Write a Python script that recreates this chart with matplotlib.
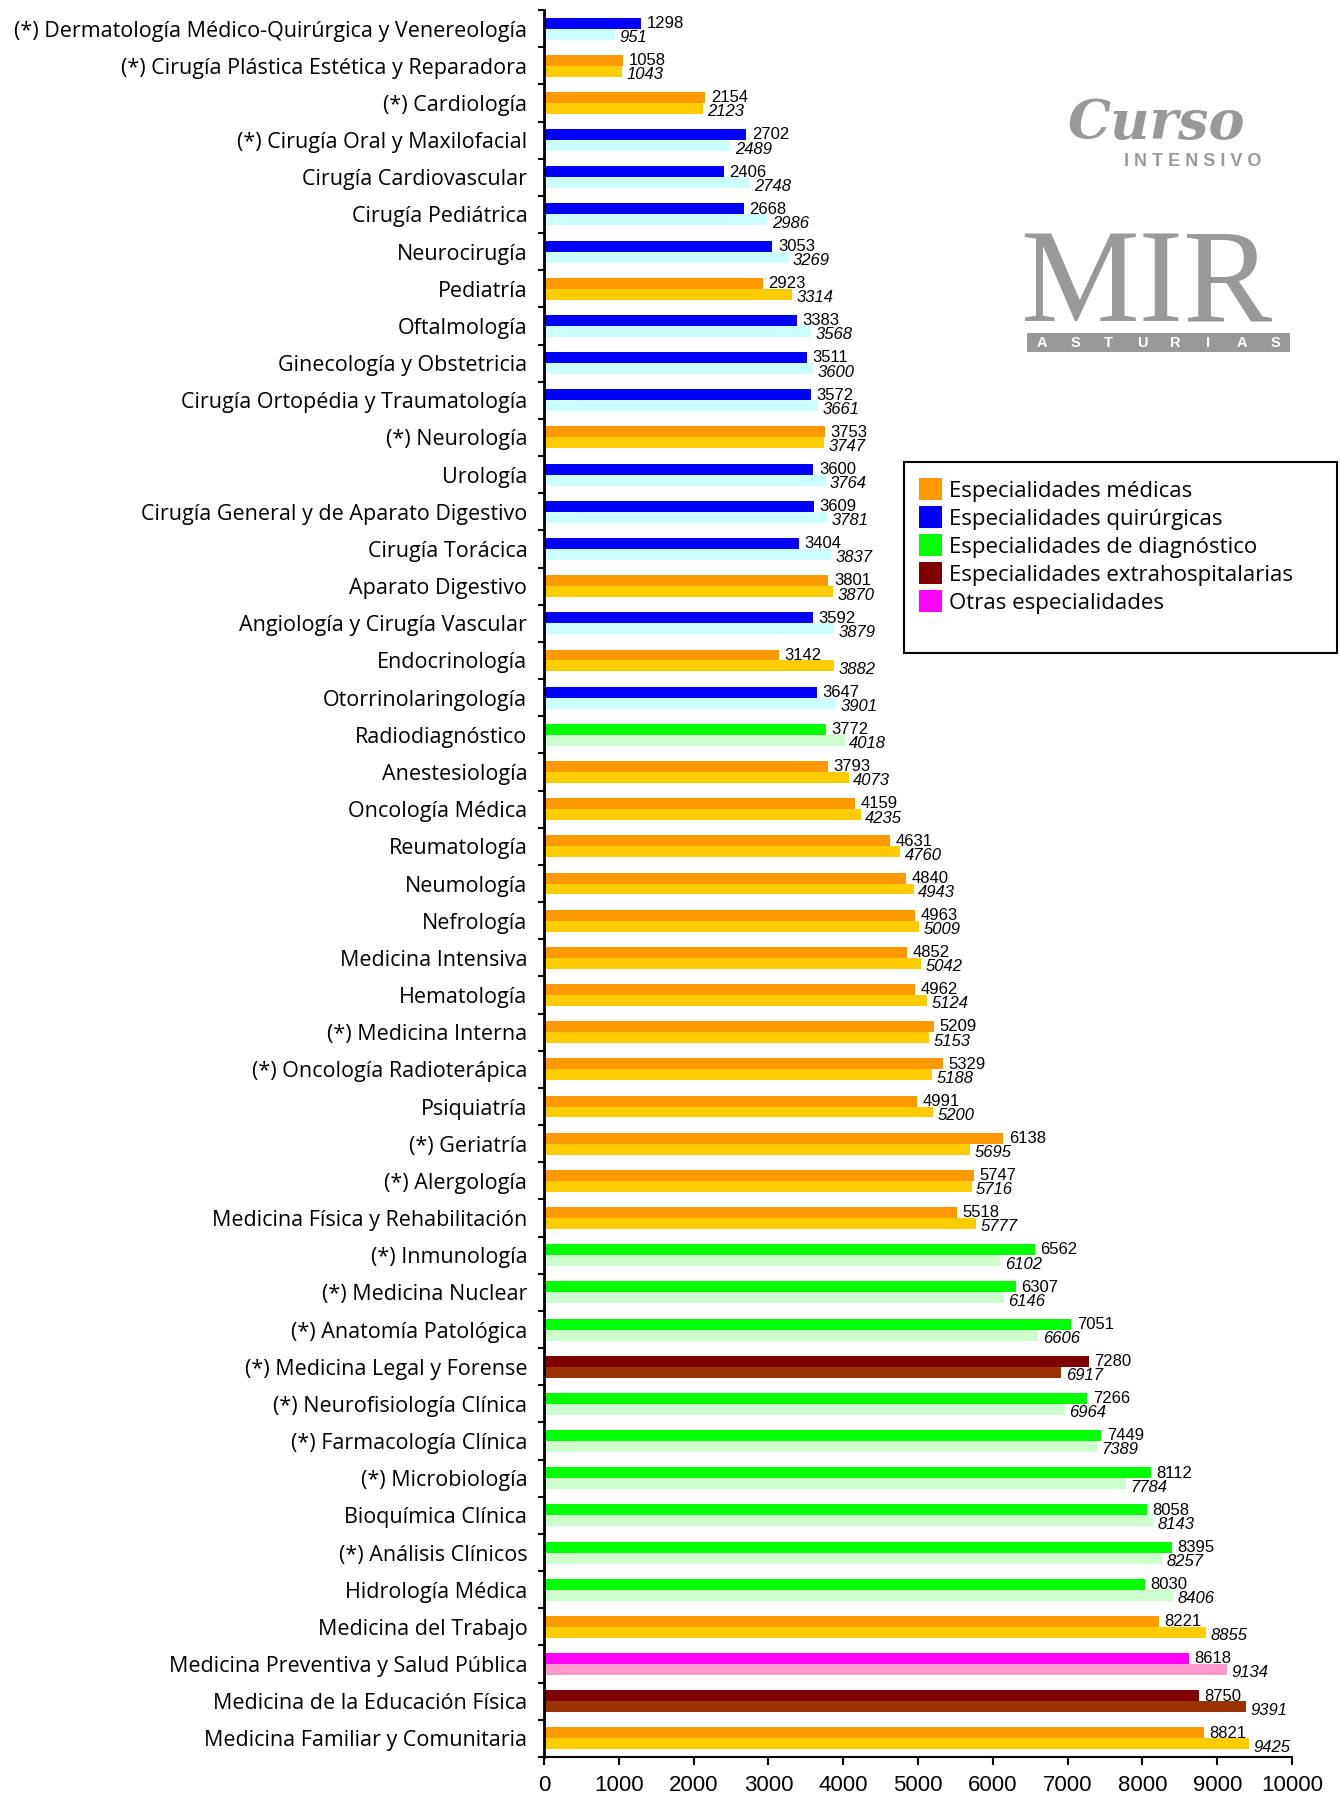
import matplotlib
matplotlib.use("Agg")
import matplotlib.pyplot as plt
from matplotlib.patches import Patch, Rectangle
import numpy as np

categories = [
    "(*) Dermatología Médico-Quirúrgica y Venereología",
    "(*) Cirugía Plástica Estética y Reparadora",
    "(*) Cardiología",
    "(*) Cirugía Oral y Maxilofacial",
    "Cirugía Cardiovascular",
    "Cirugía Pediátrica",
    "Neurocirugía",
    "Pediatría",
    "Oftalmología",
    "Ginecología y Obstetricia",
    "Cirugía Ortopédia y Traumatología",
    "(*) Neurología",
    "Urología",
    "Cirugía General y de Aparato Digestivo",
    "Cirugía Torácica",
    "Aparato Digestivo",
    "Angiología y Cirugía Vascular",
    "Endocrinología",
    "Otorrinolaringología",
    "Radiodiagnóstico",
    "Anestesiología",
    "Oncología Médica",
    "Reumatología",
    "Neumología",
    "Nefrología",
    "Medicina Intensiva",
    "Hematología",
    "(*) Medicina Interna",
    "(*) Oncología Radioterápica",
    "Psiquiatría",
    "(*) Geriatría",
    "(*) Alergología",
    "Medicina Física y Rehabilitación",
    "(*) Inmunología",
    "(*) Medicina Nuclear",
    "(*) Anatomía Patológica",
    "(*) Medicina Legal y Forense",
    "(*) Neurofisiología Clínica",
    "(*) Farmacología Clínica",
    "(*) Microbiología",
    "Bioquímica Clínica",
    "(*) Análisis Clínicos",
    "Hidrología Médica",
    "Medicina del Trabajo",
    "Medicina Preventiva y Salud Pública",
    "Medicina de la Educación Física",
    "Medicina Familiar y Comunitaria",
]

values_top = [1298, 1058, 2154, 2702, 2406, 2668, 3053, 2923, 3383, 3511,
              3572, 3753, 3600, 3609, 3404, 3801, 3592, 3142, 3647, 3772,
              3793, 4159, 4631, 4840, 4963, 4852, 4962, 5209, 5329, 4991,
              6138, 5747, 5518, 6562, 6307, 7051, 7280, 7266, 7449, 8112,
              8058, 8395, 8030, 8221, 8618, 8750, 8821]

values_bottom = [951, 1043, 2123, 2489, 2748, 2986, 3269, 3314, 3568, 3600,
                 3661, 3747, 3764, 3781, 3837, 3870, 3879, 3882, 3901, 4018,
                 4073, 4235, 4760, 4943, 5009, 5042, 5124, 5153, 5188, 5200,
                 5695, 5716, 5777, 6102, 6146, 6606, 6917, 6964, 7389, 7784,
                 8143, 8257, 8406, 8855, 9134, 9391, 9425]

# M = médicas, Q = quirúrgicas, D = diagnóstico, E = extrahospitalarias, O = otras
groups = ["Q", "M", "M", "Q", "Q", "Q", "Q", "M", "Q", "Q",
          "Q", "M", "Q", "Q", "Q", "M", "Q", "M", "Q", "D",
          "M", "M", "M", "M", "M", "M", "M", "M", "M", "M",
          "M", "M", "M", "D", "D", "D", "E", "D", "D", "D",
          "D", "D", "D", "M", "O", "E", "M"]

group_names = {
    "M": "Especialidades médicas",
    "Q": "Especialidades quirúrgicas",
    "D": "Especialidades de diagnóstico",
    "E": "Especialidades extrahospitalarias",
    "O": "Otras especialidades",
}
group_colors = {
    "M": ("#FF9900", "#FFCC00"),
    "Q": ("#0000FF", "#CCFFFF"),
    "D": ("#00FF00", "#CCFFCC"),
    "E": ("#800000", "#993300"),
    "O": ("#FF00FF", "#FF99CC"),
}

W, H = 1340, 1793
fig = plt.figure(figsize=(W / 100, H / 100), dpi=100)
ax = fig.add_axes([544 / W, 36 / H, (1292 - 544) / W, (1757 - 10) / H])

n = len(categories)
y = np.arange(n)
bh = 0.295
c_top = [group_colors[g][0] for g in groups]
c_bot = [group_colors[g][1] for g in groups]
ax.barh(y - bh / 2, values_top, height=bh, color=c_top, linewidth=0)
ax.barh(y + bh / 2, values_bottom, height=bh, color=c_bot, linewidth=0)

for i in range(n):
    ax.text(values_top[i] + 75, i - 0.14, str(values_top[i]), va="center", ha="left",
            fontsize=12, family="Liberation Sans", color="black")
    ax.text(values_bottom[i] + 60, i + 0.24, str(values_bottom[i]), va="center", ha="left",
            fontsize=12, family="Liberation Sans", style="italic", color="black")

ax.set_xlim(0, 10000)
ax.set_ylim(n - 0.5, -0.5)
ax.set_xticks(np.arange(0, 10001, 1000))
ax.set_xticklabels([str(v) for v in range(0, 10001, 1000)], family="Liberation Sans", fontsize=16)
ax.tick_params(axis="x", direction="out", length=6, width=1.5, pad=7)

ax.set_yticks(np.arange(-0.5, n, 1.0))
ax.set_yticklabels([])
ax.tick_params(axis="y", which="major", direction="out", length=4, width=1.5)
ax.set_yticks(y, minor=True)
ax.set_yticklabels(categories, minor=True, family="Open Sans", fontsize=15.5)
ax.tick_params(axis="y", which="minor", length=0, pad=12)

for s in ["top", "right"]:
    ax.spines[s].set_visible(False)
ax.spines["left"].set_linewidth(2)
ax.spines["bottom"].set_linewidth(1.5)

# legend box
fig.patches.append(Rectangle((904 / W, 1 - 653 / H), 433 / W, 191 / H, transform=fig.transFigure,
                             fill=False, edgecolor="black", linewidth=1.5))
handles = [Patch(facecolor=group_colors[k][0], edgecolor="none", label=group_names[k])
           for k in ["M", "Q", "D", "E", "O"]]
fig.legend(handles=handles, loc="upper left", bbox_to_anchor=(899 / W, 1 - 458 / H),
           frameon=False, handlelength=1.05, handleheight=1.15, handletextpad=0.3,
           labelspacing=0.2, prop={"family": "Open Sans", "size": 16})

# logo
gray = "#999999"
lg = fig.add_axes([1020 / W, 1 - 355 / H, 275 / W, 270 / H])
lg.set_xlim(1020, 1295)
lg.set_ylim(355, 85)
lg.axis("off")
lg.text(1156, 124, "Curso", ha="center", va="center", fontsize=39, family="DejaVu Serif",
        style="italic", weight="bold", color=gray)
lg.text(1193, 162, "I N T E N S I V O", ha="center", va="center", fontsize=13,
        family="Liberation Sans", weight="bold", color=gray)
lg.text(1146, 322, "MIR", ha="center", va="baseline", fontsize=96, family="Liberation Serif",
        color=gray)
lg.add_patch(Rectangle((1027, 333), 263, 19, color=gray, linewidth=0))
for k, ch in enumerate("ASTURIAS"):
    lg.text(1042 + k * 33.3, 343, ch, ha="center", va="center", fontsize=10.5,
            family="Liberation Sans", weight="bold", color="white")

fig.savefig("out.png", dpi=100)
